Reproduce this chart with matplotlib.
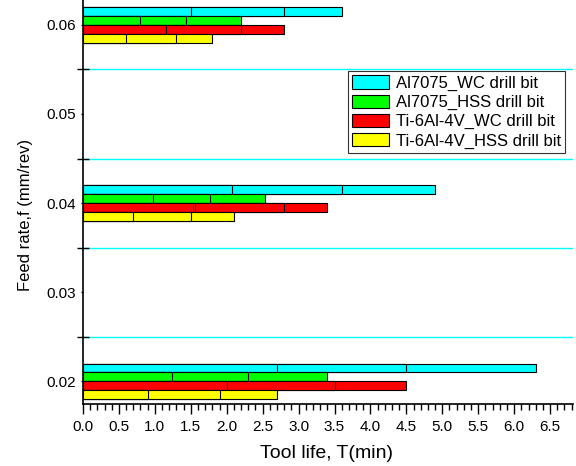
import matplotlib
matplotlib.use('Agg')
import matplotlib.pyplot as plt
import numpy as np

plt.rcParams['font.family'] = ['Liberation Sans', 'DejaVu Sans']

feed_rates = [0.02, 0.04, 0.06]
labels = ["Al7075_WC drill bit", "Al7075_HSS drill bit",
          "Ti-6Al-4V_WC drill bit", "Ti-6Al-4V_HSS drill bit"]
colors = ["#00FFFF", "#00FF00", "#FF0000", "#FFFF00"]

# tool life (min) at three cutting speeds, per feed rate
al_wc = [[2.7, 4.5, 6.3], [2.07, 3.6, 4.9], [1.5, 2.8, 3.6]]
al_hss = [[1.24, 2.3, 3.4], [0.98, 1.77, 2.53], [0.8, 1.43, 2.2]]
ti_wc = [[2.0, 3.5, 4.5], [1.56, 2.8, 3.4], [1.15, 2.2, 2.8]]
ti_hss = [[0.9, 1.9, 2.7], [0.7, 1.5, 2.1], [0.6, 1.3, 1.8]]
series = [al_wc, al_hss, ti_wc, ti_hss]

offsets = [0.0015, 0.0005, -0.0005, -0.0015]
bar_h = 0.00095

fig = plt.figure(figsize=(5.76, 4.66), dpi=100)
ax = fig.add_axes([0.144, 0.1324, 0.851, 0.8676])

for s, (vals, off, c, lab) in enumerate(zip(series, offsets, colors, labels)):
    for i, f in enumerate(feed_rates):
        # longest bar first so the shorter ones sit on top
        for j, v in enumerate(sorted(vals[i], reverse=True)):
            ax.barh(f + off, v, height=bar_h, color=c, edgecolor='black',
                    linewidth=0.8, zorder=3,
                    label=lab if (i == 0 and j == 0) else None)

ax.set_xlim(0, 6.82)
ax.set_ylim(0.0174, 0.0628)

ax.set_xticks(np.arange(0, 6.51, 0.5))
ax.set_xticklabels([f"{v:.1f}" for v in np.arange(0, 6.51, 0.5)])
ax.set_xticks(np.arange(0, 6.82, 0.1), minor=True)
ax.tick_params(axis='x', which='major', direction='out', length=7, width=1,
               labelsize=11, pad=4)
ax.tick_params(axis='x', which='minor', direction='out', length=4, width=1)

ax.set_yticks(feed_rates + [0.03, 0.05])
ax.set_yticklabels(["0.02", "0.04", "0.06", "0.03", "0.05"])
ax.set_yticks([0.025, 0.035, 0.045, 0.055], minor=True)
ax.tick_params(axis='y', which='major', direction='out', length=1.5,
               width=1, labelsize=11)
ax.tick_params(axis='y', which='minor', direction='inout', length=8, width=1)
ax.yaxis.grid(True, which='minor', color='#00FFFF', linewidth=1, zorder=1)

ax.spines['top'].set_visible(False)
ax.spines['right'].set_visible(False)
ax.spines['left'].set_linewidth(1.2)
ax.spines['bottom'].set_linewidth(1.2)

ax.set_xlabel("Tool life, T(min)", fontsize=14, va='center')
ax.xaxis.set_label_coords(0.497, -0.1205)
ax.set_ylabel("Feed rate,f (mm/rev)", fontsize=12, va='center')
ax.yaxis.set_label_coords(-0.118, 0.468)

leg = ax.legend(loc='upper left', bbox_to_anchor=(0.541, 0.824), fontsize=12,
                frameon=True, fancybox=False, edgecolor='black',
                handlelength=2.2, handleheight=0.85, labelspacing=0.22,
                handletextpad=0.4, borderpad=0.25, borderaxespad=0)
leg.get_frame().set_linewidth(0.8)
leg.set_zorder(5)

fig.savefig("out.png", dpi=100)
